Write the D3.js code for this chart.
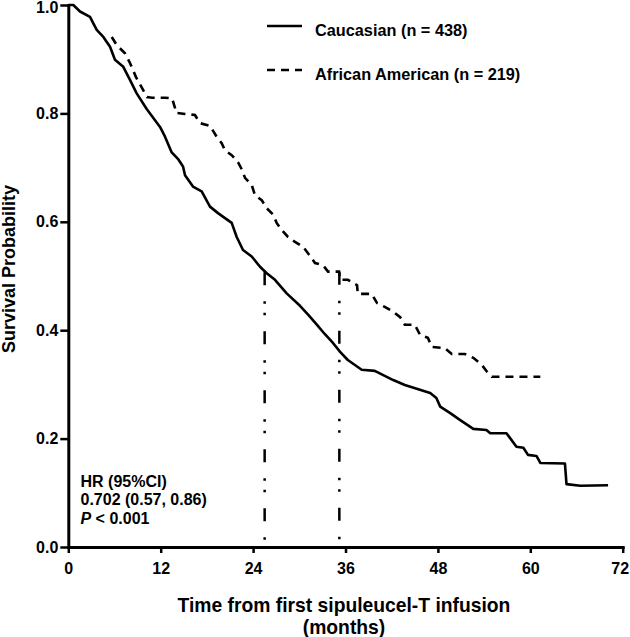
<!DOCTYPE html>
<html>
<head>
<meta charset="utf-8">
<script src="https://cdn.jsdelivr.net/npm/d3@7"></script>
<style>
  html, body { margin: 0; padding: 0; background: #fff; }
  svg { display: block; }
  text { font-family: "Liberation Sans", Arial, Helvetica, sans-serif; font-weight: bold; fill: #000; }
</style>
</head>
<body>
<svg id="chart" width="630" height="637"></svg>
<script>
// ---- data ----
const cauTime = [0, 0.65, 1.52, 2.82, 3.25, 3.69, 4.55, 5.42, 6.06, 7.14, 8.01, 8.88, 10.18, 11.91, 12.56, 13.43, 14.3, 14.9, 15.16, 16.19, 17.32, 18.4, 19.44, 21.22, 21.87, 22.69, 23.82, 24.9, 25.77, 26.84, 28.36, 30.09, 31.2, 32.3, 33.3, 34.4, 35.3, 36.3, 38.1, 39.8, 42.2, 43.7, 47.0, 47.8, 48.3, 49.6, 50.9, 52.6, 54.3, 54.8, 56.9, 58.2, 59.1, 59.7, 60.8, 61.3, 64.5, 64.7, 66.5, 70.1];
const cauSurv = [1.0, 1.0, 0.988, 0.978, 0.966, 0.954, 0.941, 0.923, 0.899, 0.886, 0.862, 0.837, 0.808, 0.775, 0.757, 0.728, 0.715, 0.702, 0.686, 0.665, 0.656, 0.628, 0.616, 0.598, 0.572, 0.548, 0.536, 0.517, 0.505, 0.493, 0.468, 0.445, 0.428, 0.410, 0.393, 0.376, 0.360, 0.345, 0.327, 0.325, 0.308, 0.299, 0.284, 0.275, 0.259, 0.247, 0.234, 0.218, 0.216, 0.210, 0.210, 0.185, 0.183, 0.170, 0.168, 0.155, 0.154, 0.116, 0.113, 0.114];

const aaTime = [5.64, 6.29, 7.36, 8.01, 8.79, 9.57, 10.22, 10.87, 12.56, 13.47, 13.86, 13.99, 15.16, 16.45, 17.1, 18.4, 19.27, 19.92, 20.35, 21.22, 22.04, 22.56, 22.95, 23.82, 24.25, 25.12, 25.77, 26.62, 27.06, 27.71, 28.53, 29.44, 30.48, 31.13, 32.04, 33.08, 33.73, 35.16, 35.3, 36.3, 37.5, 37.6, 39.4, 40.1, 41.1, 42.2, 43.1, 43.7, 45.0, 45.7, 46.7, 47.2, 48.9, 49.8, 51.5, 52.6, 53.7, 54.4, 55.0, 61.3];
const aaSurv = [0.941, 0.926, 0.911, 0.893, 0.867, 0.847, 0.830, 0.829, 0.829, 0.828, 0.810, 0.801, 0.799, 0.797, 0.782, 0.777, 0.757, 0.745, 0.732, 0.723, 0.710, 0.696, 0.681, 0.668, 0.649, 0.640, 0.625, 0.613, 0.598, 0.585, 0.572, 0.563, 0.554, 0.542, 0.524, 0.520, 0.508, 0.508, 0.493, 0.493, 0.483, 0.467, 0.467, 0.450, 0.443, 0.434, 0.424, 0.410, 0.410, 0.391, 0.386, 0.369, 0.367, 0.356, 0.356, 0.349, 0.336, 0.323, 0.314, 0.314];

const medianTime = [25.5, 35.2];
const medianSurv = [0.507, 0.508];

const seriesNames = ["Caucasian (n = 438)", "African American (n = 219)"];
const xTicks = [0, 12, 24, 36, 48, 60, 72];
const yTicks = [0, 0.2, 0.4, 0.6, 0.8, 1.0];
const statLines = ["HR (95%CI)", "0.702 (0.57, 0.86)"];
const pLabel = ["P", " < 0.001"];
const xTitle = ["Time from first sipuleucel-T infusion", "(months)"];
const yTitle = "Survival Probability";

// ---- drawing ----
const svg = d3.select("#chart");
const x = d3.scaleLinear().domain([0, 72]).range([68.3, 622.7]);
const y = d3.scaleLinear().domain([0, 1]).range([547, 5]);

const line = d3.line().x(d => x(d[0])).y(d => y(d[1])).curve(d3.curveLinear);

const cau = cauTime.map((t, i) => [t, cauSurv[i]]);
const aa = aaTime.map((t, i) => [t, aaSurv[i]]);

// median drop lines
medianTime.forEach((t, i) => {
  svg.append("line")
    .attr("x1", x(t)).attr("x2", x(t))
    .attr("y1", y(medianSurv[i])).attr("y2", y(0))
    .attr("stroke", "#000").attr("stroke-width", 2.5)
    .attr("stroke-dasharray", "13,16,2.5,9,2.5,16");
});

svg.append("path").datum(cau)
  .attr("d", line).attr("fill", "none")
  .attr("stroke", "#000").attr("stroke-width", 2.6)
  .attr("stroke-linejoin", "round");

svg.append("path").datum(aa)
  .attr("d", line).attr("fill", "none")
  .attr("stroke", "#000").attr("stroke-width", 2.6)
  .attr("stroke-dasharray", "8,6");

// axes
const xAxis = d3.axisBottom(x).tickValues(xTicks).tickSizeInner(6).tickSizeOuter(0).tickPadding(10)
  .tickFormat(d3.format("d"));
const gx = svg.append("g").attr("transform", `translate(0,${y(0)})`).call(xAxis);

const yAxis = d3.axisLeft(y).tickValues(yTicks).tickSizeInner(8).tickSizeOuter(0).tickPadding(2)
  .tickFormat(d3.format(".1f"));
const gy = svg.append("g").attr("transform", `translate(${x(0)},0)`).call(yAxis);

[gx, gy].forEach(g => {
  g.select(".domain").attr("stroke", "#000").attr("stroke-width", 3).attr("stroke-linecap", "square");
  g.selectAll(".tick line").attr("stroke", "#000").attr("stroke-width", 2.5);
  g.selectAll(".tick text").attr("font-size", 16).attr("font-weight", "bold")
    .attr("font-family", '"Liberation Sans", Arial, sans-serif').attr("fill", "#000");
});
// keep the end labels inside the page
gx.selectAll(".tick text").filter(d => d === 72).attr("dx", "-3");
gy.selectAll(".tick text").filter(d => d === 1).attr("y", 2.5);

// legend
const legY = [26, 70];
seriesNames.forEach((name, i) => {
  svg.append("line")
    .attr("x1", 267).attr("x2", 302).attr("y1", legY[i]).attr("y2", legY[i])
    .attr("stroke", "#000").attr("stroke-width", 2.6)
    .attr("stroke-dasharray", i === 1 ? "8,6" : null);
  svg.append("text").attr("x", 315).attr("y", legY[i] + 10)
    .attr("font-size", 16.3).text(name);
});

// stats text
statLines.forEach((s, i) => {
  svg.append("text").attr("x", 80.5).attr("y", 487 + i * 18.3).attr("font-size", 16).text(s);
});
const pt = svg.append("text").attr("x", 80.5).attr("y", 487 + 2 * 18.3).attr("font-size", 16);
pt.append("tspan").attr("font-style", "italic").text(pLabel[0]);
pt.append("tspan").text(pLabel[1]);

// axis titles
xTitle.forEach((s, i) => {
  svg.append("text").attr("x", 344).attr("y", 612 + i * 21.5)
    .attr("text-anchor", "middle").attr("font-size", 19.3).text(s);
});
svg.append("text")
  .attr("transform", "translate(15,269) rotate(-90)")
  .attr("text-anchor", "middle").attr("font-size", 18).text(yTitle);
</script>
</body>
</html>
